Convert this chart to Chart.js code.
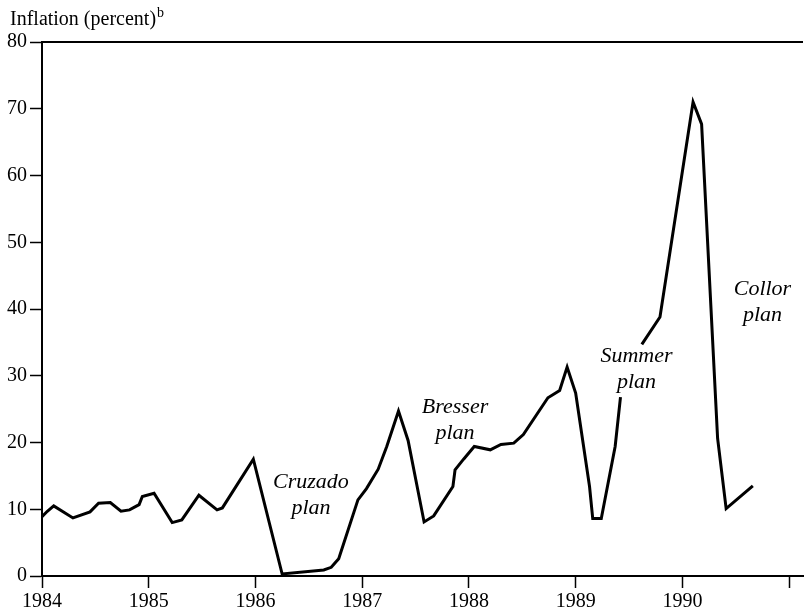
<!DOCTYPE html>
<html>
<head>
<meta charset="utf-8">
<script src="https://cdn.jsdelivr.net/npm/chart.js@4.4.0/dist/chart.umd.min.js"></script>
<style>
  html, body { margin: 0; padding: 0; background: #fff; }
  #wrap { width: 804px; height: 616px; position: relative; }
</style>
</head>
<body>
<div id="wrap"><canvas id="inflationChart"></canvas></div>
<script>
// Monthly inflation readings (decimal year, percent); null = break in the line
const years = [
  1984.00, 1984.05, 1984.11, 1984.29, 1984.45, 1984.53, 1984.64, 1984.74, 1984.82, 1984.91,
  1984.94, 1985.05, 1985.22, 1985.31, 1985.47, 1985.64, 1985.69, 1985.98, 1986.25, 1986.64,
  1986.71, 1986.78, 1986.96, 1987.04, 1987.15, 1987.23, 1987.34, 1987.43, 1987.58, 1987.67,
  1987.85, 1987.87, 1987.95, 1988.05, 1988.20, 1988.30, 1988.42, 1988.51, 1988.74, 1988.85,
  1988.92, 1989.00, 1989.13, 1989.16, 1989.24, 1989.37, 1989.42, 1989.52, 1989.62, 1989.79,
  1990.10, 1990.18, 1990.33, 1990.41, 1990.66
];
const inflation = [
  8.9, 9.7, 10.5, 8.7, 9.6, 10.9, 11.0, 9.7, 9.9, 10.7,
  11.9, 12.4, 8.0, 8.4, 12.1, 9.9, 10.2, 17.5, 0.3, 0.9,
  1.3, 2.6, 11.4, 13.1, 16.0, 19.4, 24.7, 20.3, 8.1, 9.0,
  13.4, 15.9, 17.5, 19.4, 18.9, 19.7, 19.9, 21.2, 26.7, 27.8,
  31.3, 27.4, 13.4, 8.6, 8.6, 19.4, 26.8, null, 34.7, 38.8,
  71.0, 67.7, 20.6, 10.1, 13.5
];

// Axis ticks
const yearTicks = [1984, 1985, 1986, 1987, 1988, 1989, 1990];
const yTicks = [0, 10, 20, 30, 40, 50, 60, 70, 80];

// Plan labels (two lines each) placed in data units
const planNames = [['Cruzado', 'plan'], ['Bresser', 'plan'], ['Summer', 'plan'], ['Collor', 'plan']];
const planX = [1986.52, 1987.87, 1989.57, 1990.75];
const planY = [14.1, 25.3, 32.9, 43.0];

const SERIF = '"Liberation Serif", "Times New Roman", serif';

const points = years.map((x, i) => ({ x: x, y: inflation[i] }));

const extrasPlugin = {
  id: 'extras',
  afterDraw(chart) {
    const ctx = chart.ctx;
    const area = chart.chartArea;
    const xs = chart.scales.x;
    const ys = chart.scales.y;
    ctx.save();

    // top frame line
    ctx.strokeStyle = '#000';
    ctx.lineWidth = 2;
    ctx.beginPath();
    ctx.moveTo(area.left, area.top);
    ctx.lineTo(area.right, area.top);
    ctx.stroke();

    // axis title with superscript
    ctx.fillStyle = '#000';
    ctx.textBaseline = 'alphabetic';
    ctx.textAlign = 'left';
    ctx.font = '20px ' + SERIF;
    const t = 'Inflation (percent)';
    ctx.fillText(t, 10, 25);
    const w = ctx.measureText(t).width;
    ctx.font = '14px ' + SERIF;
    ctx.fillText('b', 10 + w + 1, 17);

    // plan annotations
    ctx.font = 'italic 22px ' + SERIF;
    ctx.textAlign = 'center';
    ctx.textBaseline = 'middle';
    planNames.forEach((lines, i) => {
      const px = xs.getPixelForValue(planX[i]);
      const py = ys.getPixelForValue(planY[i]);
      lines.forEach((s, j) => ctx.fillText(s, px, py + j * 26));
    });
    ctx.restore();
  }
};

new Chart(document.getElementById('inflationChart'), {
  type: 'line',
  data: {
    datasets: [{
      data: points,
      borderColor: '#000',
      borderWidth: 3,
      borderJoinStyle: 'miter',
      pointRadius: 0,
      tension: 0,
      fill: false,
      spanGaps: false
    }]
  },
  options: {
    responsive: true,
    maintainAspectRatio: false,
    devicePixelRatio: 1,
    animation: false,
    layout: { padding: { top: 42, right: 1, left: 4, bottom: 0 } },
    plugins: {
      legend: { display: false },
      tooltip: { enabled: false }
    },
    scales: {
      x: {
        type: 'linear',
        min: 1984,
        max: 1991.13,
        border: { display: true, color: '#000', width: 2 },
        grid: { drawOnChartArea: false, drawTicks: true, tickLength: 12, tickColor: '#000', tickWidth: 1.5 },
        ticks: {
          stepSize: 1,
          includeBounds: false,
          autoSkip: false,
          maxRotation: 0,
          padding: 4,
          color: '#000',
          font: { family: SERIF, size: 20, lineHeight: 1.0 },
          callback: (v) => yearTicks.includes(v) ? String(v) : ''
        }
      },
      y: {
        min: 0,
        max: 80,
        border: { display: true, color: '#000', width: 2 },
        grid: { drawOnChartArea: false, drawTicks: true, tickLength: 12, tickColor: '#000', tickWidth: 1.5 },
        afterBuildTicks: (axis) => { axis.ticks = yTicks.map(v => ({ value: v })); },
        ticks: {
          padding: 3,
          color: '#000',
          font: { family: SERIF, size: 20 }
        }
      }
    }
  },
  plugins: [extrasPlugin]
});
</script>
</body>
</html>
